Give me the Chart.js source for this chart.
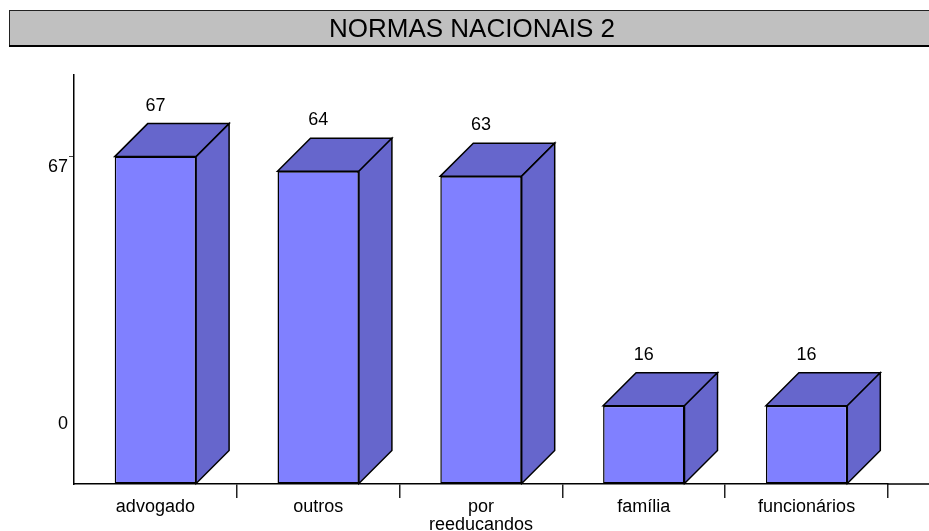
<!DOCTYPE html>
<html>
<head>
<meta charset="utf-8">
<script src="https://cdn.jsdelivr.net/npm/chart.js@4/dist/chart.umd.min.js"></script>
<style>
  html, body { margin: 0; padding: 0; background: #ffffff; }
  #wrap { width: 929px; height: 531px; position: relative; }
</style>
</head>
<body>
<div id="wrap"><canvas id="c" width="929" height="531"></canvas></div>
<script>
const chartTitle = 'NORMAS NACIONAIS 2';
const categories = ['advogado', 'outros', ['por', 'reeducandos'], 'família', 'funcionários'];
const values = [67, 64, 63, 16, 16];
const yTickValues = [0, 67];
const yTickLabels = ['0', '67'];

const FONT = '"Liberation Sans", Arial, sans-serif';
const DEPTH = 33;
const FRONT = '#8080ff';
const SIDE = '#6666cc';

const titleBox = {
  id: 'titleBox',
  beforeDraw(chart) {
    const ctx = chart.ctx;
    ctx.save();
    ctx.fillStyle = '#c0c0c0';
    ctx.fillRect(9, 10, 940, 36);
    ctx.strokeStyle = '#222';
    ctx.lineWidth = 1;
    ctx.strokeRect(9.5, 10.5, 940, 35);
    ctx.lineWidth = 2;
    ctx.strokeStyle = '#000';
    ctx.beginPath();
    ctx.moveTo(9, 46);
    ctx.lineTo(929, 46);
    ctx.stroke();
    ctx.fillStyle = '#000';
    ctx.font = '26px ' + FONT;
    ctx.textAlign = 'center';
    ctx.textBaseline = 'alphabetic';
    ctx.fillText(chartTitle, 472, 37);
    ctx.restore();
  }
};

const bars3d = {
  id: 'bars3d',
  afterDatasetsDraw(chart) {
    const ctx = chart.ctx;
    const meta = chart.getDatasetMeta(0);
    ctx.save();
    ctx.lineWidth = 1.5;
    ctx.strokeStyle = '#000';
    ctx.lineJoin = 'miter';
    meta.data.forEach((bar, i) => {
      const p = bar.getProps(['x', 'y', 'base', 'width'], true);
      const x1 = p.x - p.width / 2, x2 = p.x + p.width / 2;
      const yt = p.y, yb = p.base;
      ctx.fillStyle = SIDE;
      ctx.beginPath();
      ctx.moveTo(x1, yt);
      ctx.lineTo(x1 + DEPTH, yt - DEPTH);
      ctx.lineTo(x2 + DEPTH, yt - DEPTH);
      ctx.lineTo(x2, yt);
      ctx.closePath();
      ctx.fill();
      ctx.stroke();
      ctx.beginPath();
      ctx.moveTo(x2, yt);
      ctx.lineTo(x2 + DEPTH, yt - DEPTH);
      ctx.lineTo(x2 + DEPTH, yb - DEPTH);
      ctx.lineTo(x2, yb);
      ctx.closePath();
      ctx.fill();
      ctx.stroke();
      ctx.fillStyle = '#000';
      ctx.font = '18px ' + FONT;
      ctx.textAlign = 'center';
      ctx.textBaseline = 'middle';
      ctx.fillText(String(values[i]), p.x, yt - DEPTH - 18);
    });
    ctx.restore();
  },
  afterDraw(chart) {
    const ctx = chart.ctx;
    const ca = chart.chartArea;
    const ys = chart.scales.y;
    ctx.save();
    ctx.strokeStyle = '#000';
    ctx.lineWidth = 1.5;
    ctx.beginPath();
    ctx.moveTo(ca.right - 1, ca.bottom);
    ctx.lineTo(chart.width, ca.bottom);
    ctx.stroke();
    ctx.fillStyle = '#000';
    ctx.font = '18px ' + FONT;
    ctx.textAlign = 'right';
    ctx.textBaseline = 'middle';
    const offs = [-60, 10];
    yTickValues.forEach((v, i) => {
      ctx.fillText(yTickLabels[i], ca.left - 6, ys.getPixelForValue(v) + offs[i]);
    });
    ctx.restore();
  }
};

new Chart(document.getElementById('c'), {
  type: 'bar',
  data: {
    labels: categories,
    datasets: [{
      data: values,
      backgroundColor: FRONT,
      borderColor: '#000',
      borderWidth: 1.5,
      borderSkipped: false,
      categoryPercentage: 1.0,
      barPercentage: 0.5
    }]
  },
  options: {
    responsive: false,
    animation: false,
    layout: { padding: { left: 0, right: 41, top: 75, bottom: 0 } },
    plugins: {
      legend: { display: false },
      tooltip: { enabled: false },
      title: { display: false }
    },
    scales: {
      x: {
        type: 'category',
        offset: true,
        border: { display: true, color: '#000', width: 1.5 },
        grid: {
          offset: true,
          drawOnChartArea: false,
          drawTicks: true,
          tickLength: 14,
          lineWidth: 1.5,
          color: (c) => (c.index === 0 ? 'rgba(0,0,0,0)' : '#222')
        },
        ticks: {
          color: '#000',
          font: { family: FONT, size: 18, lineHeight: 1.0 },
          padding: 0,
          maxRotation: 0,
          autoSkip: false
        },
        afterFit(scale) { scale.height = 47; }
      },
      y: {
        min: 0,
        max: 83.7,
        border: { display: true, color: '#000', width: 1.5 },
        grid: {
          drawOnChartArea: false,
          drawTicks: true,
          tickLength: 5,
          color: (c) => (c.tick && c.tick.value === 0 ? 'rgba(0,0,0,0)' : '#444')
        },
        ticks: { display: false },
        afterBuildTicks(scale) { scale.ticks = yTickValues.map(v => ({ value: v })); },
        afterFit(scale) { scale.width = 74; }
      }
    }
  },
  plugins: [titleBox, bars3d]
});
</script>
</body>
</html>
